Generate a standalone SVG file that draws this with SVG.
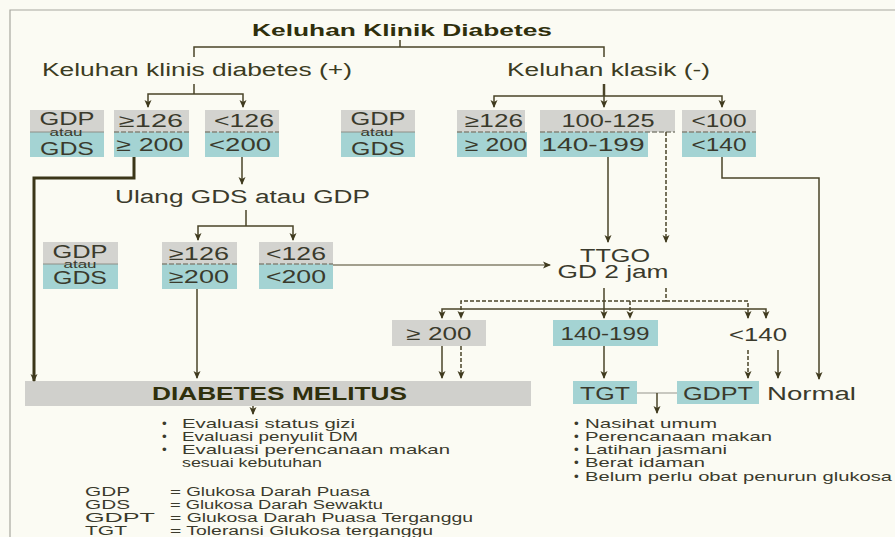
<svg xmlns="http://www.w3.org/2000/svg" width="895" height="537" viewBox="0 0 895 537">
<style>
text{font-family:"Liberation Sans",Arial,sans-serif;fill:#3a3a2c}
.g{fill:#d3d3cf}
.t{fill:#a4d3d3}
.sep{stroke:#85857a;stroke-width:1.5;stroke-dasharray:5,2;fill:none}
.bl{stroke:#8e8e86;stroke-width:1;fill:none}
.bx{font-size:18px;text-anchor:middle}
.sm{font-size:10px;text-anchor:middle}
.c{stroke:#4a4428;stroke-width:1.5;fill:none}
.d{stroke:#4a4428;stroke-width:1.5;fill:none;stroke-dasharray:4,2}
.th{stroke:#3b3618;stroke-width:3;fill:none}
.a{marker-end:url(#ah)}
.li{font-size:13.5px}
.lg{font-size:12.5px}
</style>
<defs>
<marker id="ah" viewBox="0 0 8 8" refX="7" refY="4" markerWidth="8" markerHeight="8" markerUnits="userSpaceOnUse" orient="auto">
<path d="M0,0.5 L8,4 L0,7.5 L2,4 z" fill="#3f3a1e"/>
</marker>
</defs>
<rect width="895" height="537" fill="#fbfbf3"/>
<path d="M10,537 V10 H895" stroke="#a8a8a0" stroke-width="1.2" fill="none"/>

<g id="title"><text x="252" y="36" font-size="17" font-weight="bold" textLength="300" lengthAdjust="spacingAndGlyphs" style="fill:#2f2f0c">Keluhan Klinik Diabetes</text></g>
<g id="klinis-pos"><text x="42" y="76" font-size="18" textLength="310" lengthAdjust="spacingAndGlyphs" style="fill:#3c3c22">Keluhan klinis diabetes (+)</text></g>
<g id="klasik-neg"><text x="507" y="76" font-size="18" textLength="203" lengthAdjust="spacingAndGlyphs" style="fill:#3c3c22">Keluhan klasik (-)</text></g>

<!-- Row 1 -->
<g id="r1-label1">
<rect class="g" x="30" y="110" width="74" height="22"/><rect class="t" x="30" y="132" width="74" height="25"/>
<line class="bl" x1="30" y1="132" x2="104" y2="132"/>
<text class="bx" x="67" y="125" textLength="55" lengthAdjust="spacingAndGlyphs">GDP</text>
<text class="sm" x="66" y="136" textLength="33" lengthAdjust="spacingAndGlyphs">atau</text>
<text class="bx" x="67" y="155" textLength="54" lengthAdjust="spacingAndGlyphs">GDS</text>
</g>
<g id="r1-a">
<rect class="g" x="114" y="110" width="75" height="22"/><rect class="t" x="114" y="132" width="75" height="25"/>
<line class="sep" x1="114" y1="132" x2="189" y2="132"/>
<text class="bx" x="151" y="127" textLength="64" lengthAdjust="spacingAndGlyphs">≥126</text>
<text class="bx" x="150" y="151" textLength="67" lengthAdjust="spacingAndGlyphs">≥ 200</text>
</g>
<g id="r1-b">
<rect class="g" x="205" y="110" width="74" height="22"/><rect class="t" x="205" y="132" width="74" height="25"/>
<line class="sep" x1="205" y1="132" x2="279" y2="132"/>
<text class="bx" x="244" y="127" textLength="60" lengthAdjust="spacingAndGlyphs">&lt;126</text>
<text class="bx" x="240" y="151" textLength="62" lengthAdjust="spacingAndGlyphs">&lt;200</text>
</g>
<g id="r1-label2">
<rect class="g" x="341" y="110" width="74" height="22"/><rect class="t" x="341" y="132" width="74" height="25"/>
<line class="bl" x1="341" y1="132" x2="415" y2="132"/>
<text class="bx" x="378" y="125" textLength="55" lengthAdjust="spacingAndGlyphs">GDP</text>
<text class="sm" x="377" y="136" textLength="33" lengthAdjust="spacingAndGlyphs">atau</text>
<text class="bx" x="378" y="155" textLength="54" lengthAdjust="spacingAndGlyphs">GDS</text>
</g>
<g id="r1-c">
<rect class="g" x="457" y="110" width="68" height="22"/><rect class="t" x="457" y="132" width="70" height="25"/>
<line class="sep" x1="457" y1="132" x2="527" y2="132"/>
<text class="bx" x="494" y="127" textLength="58" lengthAdjust="spacingAndGlyphs">≥126</text>
<text class="bx" x="496" y="151" textLength="62" lengthAdjust="spacingAndGlyphs">≥ 200</text>
</g>
<g id="r1-d">
<rect class="g" x="540" y="110" width="135" height="22"/><rect class="t" x="540" y="132" width="108" height="25"/>
<line class="sep" x1="540" y1="132" x2="675" y2="132"/>
<text class="bx" x="608" y="127" textLength="93" lengthAdjust="spacingAndGlyphs">100-125</text>
<text class="bx" x="593" y="151" textLength="103" lengthAdjust="spacingAndGlyphs">140-199</text>
</g>
<g id="r1-e">
<rect class="g" x="682" y="110" width="74" height="22"/><rect class="t" x="682" y="132" width="74" height="25"/>
<line class="sep" x1="682" y1="132" x2="756" y2="132"/>
<text class="bx" x="719" y="127" textLength="55" lengthAdjust="spacingAndGlyphs">&lt;100</text>
<text class="bx" x="719" y="151" textLength="55" lengthAdjust="spacingAndGlyphs">&lt;140</text>
</g>

<g id="ulang"><text x="115" y="203" font-size="18" textLength="255" lengthAdjust="spacingAndGlyphs">Ulang GDS atau GDP</text></g>

<!-- Row 2 -->
<g id="r2-label">
<rect class="g" x="43" y="242" width="75" height="22"/><rect class="t" x="43" y="264" width="75" height="25"/>
<line class="bl" x1="43" y1="264" x2="118" y2="264"/>
<text class="bx" x="80" y="258" textLength="55" lengthAdjust="spacingAndGlyphs">GDP</text>
<text class="sm" x="80" y="268" textLength="33" lengthAdjust="spacingAndGlyphs">atau</text>
<text class="bx" x="80" y="284" textLength="54" lengthAdjust="spacingAndGlyphs">GDS</text>
</g>
<g id="r2-a">
<rect class="g" x="162" y="242" width="75" height="22"/><rect class="t" x="162" y="264" width="75" height="25"/>
<line class="sep" x1="162" y1="264" x2="237" y2="264"/>
<text class="bx" x="199" y="260" textLength="60" lengthAdjust="spacingAndGlyphs">≥126</text>
<text class="bx" x="199" y="283" textLength="60" lengthAdjust="spacingAndGlyphs">≥200</text>
</g>
<g id="r2-b">
<rect class="g" x="259" y="242" width="74" height="22"/><rect class="t" x="259" y="264" width="74" height="25"/>
<line class="sep" x1="259" y1="264" x2="333" y2="264"/>
<text class="bx" x="296" y="260" textLength="60" lengthAdjust="spacingAndGlyphs">&lt;126</text>
<text class="bx" x="296" y="283" textLength="60" lengthAdjust="spacingAndGlyphs">&lt;200</text>
</g>

<g id="ttgo">
<text class="bx" x="615" y="262" font-size="17" textLength="70" lengthAdjust="spacingAndGlyphs">TTGO</text>
<text class="bx" x="613" y="278" font-size="17" textLength="111" lengthAdjust="spacingAndGlyphs">GD 2 jam</text>
</g>

<!-- Row 3 -->
<g id="r3-a"><rect class="g" x="392" y="320" width="94" height="26"/><text class="bx" x="439" y="340" textLength="65" lengthAdjust="spacingAndGlyphs">≥ 200</text></g>
<g id="r3-b"><rect class="t" x="553" y="320" width="105" height="26"/><text class="bx" x="605" y="340" textLength="89" lengthAdjust="spacingAndGlyphs">140-199</text></g>
<g id="r3-c"><text class="bx" x="758" y="341" textLength="58" lengthAdjust="spacingAndGlyphs">&lt;140</text></g>

<g id="dm">
<rect x="25" y="381" width="506" height="25" fill="#d0d0cc"/>
<text x="152" y="400" font-size="18" font-weight="bold" textLength="255" lengthAdjust="spacingAndGlyphs" style="fill:#2f2f0c">DIABETES MELITUS</text>
</g>
<g id="tgt"><rect class="t" x="573" y="381" width="64" height="23"/><text class="bx" x="605" y="400" textLength="50" lengthAdjust="spacingAndGlyphs">TGT</text></g>
<g id="gdpt"><rect class="t" x="677" y="381" width="82" height="23"/><text class="bx" x="718" y="400" textLength="70" lengthAdjust="spacingAndGlyphs">GDPT</text></g>
<g id="normal"><text x="767" y="400" font-size="18" textLength="89" lengthAdjust="spacingAndGlyphs">Normal</text></g>

<g id="dm-actions">
<text class="li" x="162" y="428">•</text><text class="li" x="182" y="428" textLength="173" lengthAdjust="spacingAndGlyphs">Evaluasi status gizi</text>
<text class="li" x="162" y="441">•</text><text class="li" x="182" y="441" textLength="176" lengthAdjust="spacingAndGlyphs">Evaluasi penyulit DM</text>
<text class="li" x="162" y="454">•</text><text class="li" x="182" y="454" textLength="268" lengthAdjust="spacingAndGlyphs">Evaluasi perencanaan makan</text>
<text class="li" x="182" y="467" textLength="140" lengthAdjust="spacingAndGlyphs">sesuai kebutuhan</text>
</g>
<g id="tgt-actions">
<text class="li" x="574" y="428">•</text><text class="li" x="585" y="428" textLength="132" lengthAdjust="spacingAndGlyphs">Nasihat umum</text>
<text class="li" x="574" y="441">•</text><text class="li" x="585" y="441" textLength="187" lengthAdjust="spacingAndGlyphs">Perencanaan makan</text>
<text class="li" x="574" y="454">•</text><text class="li" x="585" y="454" textLength="142" lengthAdjust="spacingAndGlyphs">Latihan jasmani</text>
<text class="li" x="574" y="467">•</text><text class="li" x="585" y="467" textLength="120" lengthAdjust="spacingAndGlyphs">Berat idaman</text>
<text class="li" x="574" y="481">•</text><text class="li" x="585" y="481" textLength="307" lengthAdjust="spacingAndGlyphs">Belum perlu obat penurun glukosa</text>
</g>
<g id="legend">
<text class="lg" x="85" y="496" textLength="45" lengthAdjust="spacingAndGlyphs">GDP</text><text class="lg" x="170" y="496" textLength="200" lengthAdjust="spacingAndGlyphs">= Glukosa Darah Puasa</text>
<text class="lg" x="85" y="509" textLength="45" lengthAdjust="spacingAndGlyphs">GDS</text><text class="lg" x="170" y="509" textLength="213" lengthAdjust="spacingAndGlyphs">= Glukosa Darah Sewaktu</text>
<text class="lg" x="85" y="522" textLength="70" lengthAdjust="spacingAndGlyphs">GDPT</text><text class="lg" x="170" y="522" textLength="303" lengthAdjust="spacingAndGlyphs">= Glukosa Darah Puasa Terganggu</text>
<text class="lg" x="85" y="535" textLength="42" lengthAdjust="spacingAndGlyphs">TGT</text><text class="lg" x="170" y="535" textLength="263" lengthAdjust="spacingAndGlyphs">= Toleransi Glukosa terganggu</text>
</g>

<g id="connectors">
<path class="c" d="M400,40 V47"/>
<path class="c" d="M194,57 V47 H604 V57"/>
<path class="c" d="M194,84 V94"/>
<path class="c a" d="M194,94 H148 V107"/>
<path class="c a" d="M194,94 H243 V107"/>
<path class="c" style="stroke-width:2.5" d="M604,84 V96"/>
<path class="c a" d="M604,96 H494 V107"/>
<path class="c a" d="M604,96 H722 V107"/>
<path class="c a" d="M604,96 V107"/>
<path class="th a" d="M134,157 V178 H34 V381"/>
<path class="c a" d="M242,157 V184"/>
<path class="c" d="M246,210 V226"/>
<path class="c a" d="M246,226 H198 V240"/>
<path class="c a" d="M246,226 H293 V240"/>
<path class="c a" style="stroke-width:1.1" d="M333,265 H550"/>
<path class="c a" d="M197,289 V378"/>
<path class="c a" d="M608,157 V242"/>
<path class="d a" d="M666,132 V242"/>
<path class="c a" d="M722,157 V178 H819 V379"/>
<path class="c a" d="M604,288 V318"/>
<path class="c a" d="M604,309 H442 V318"/>
<path class="c a" d="M604,309 H766 V318"/>
<path class="d" d="M666,288 V301"/>
<path class="d a" d="M666,301 H461 V318"/>
<path class="d a" d="M666,301 H748 V318"/>
<path class="d a" d="M630,301 V318"/>
<path class="c a" d="M442,346 V378"/>
<path class="d a" d="M461,346 V378"/>
<path class="c a" d="M604,346 V378"/>
<path class="d a" d="M748,350 V378"/>
<path class="c a" d="M778,350 V378"/>
<path d="M637,393 H677" stroke="#c8c8c0" stroke-width="2" fill="none"/>
<path class="c a" d="M657,393 V413"/>
<path class="c a" d="M253,406 V414"/>
</g>
</svg>
